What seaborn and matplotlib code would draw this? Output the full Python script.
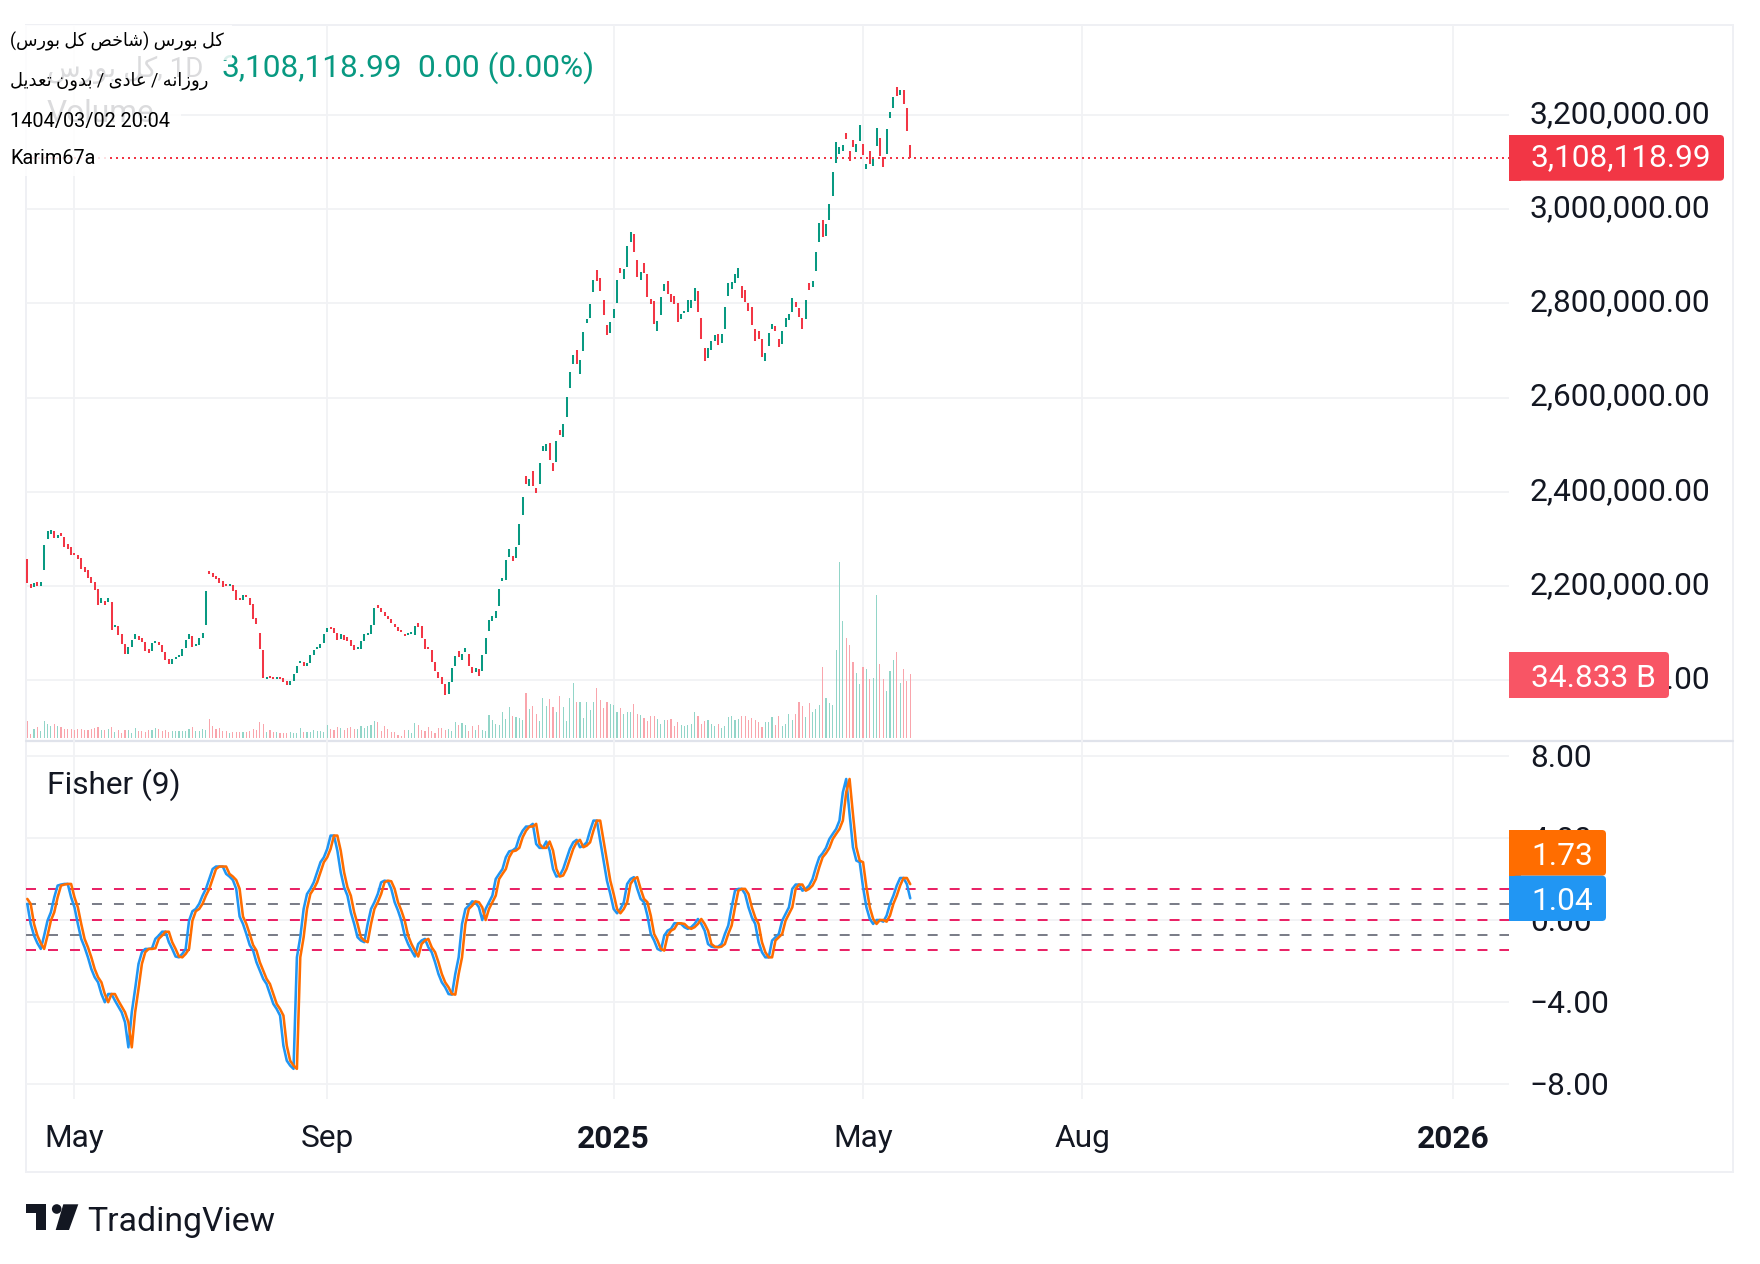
#!/usr/bin/env python3

import numpy as np
import pandas as pd
import matplotlib
matplotlib.use("Agg")
import matplotlib.pyplot as plt
from matplotlib.patches import Rectangle, FancyBboxPatch, Polygon, Circle
from matplotlib.transforms import ScaledTranslation
import seaborn as sns

# daily candles, thousands of points
open_k = [
    2257, 2204, 2198, 2208, 2200, 2234, 2299, 2310, 2316, 2302, 2312, 2304, 2289, 2283, 2270, 2266, 2259, 2240, 2234, 2219,
    2208, 2193, 2164, 2168, 2166, 2166, 2113, 2115, 2098, 2077, 2055, 2070, 2087, 2094, 2089, 2081, 2066, 2062, 2079, 2081,
    2074, 2060, 2045, 2034, 2045, 2049, 2051, 2068, 2087, 2094, 2072, 2074, 2089, 2117, 2232, 2227, 2221, 2217, 2210, 2204,
    2200, 2202, 2191, 2174, 2170, 2181, 2174, 2161, 2132, 2100, 2064, 2002, 2009, 2006, 2002, 2006, 2004, 1998, 1989, 1998,
    2015, 2036, 2038, 2030, 2036, 2053, 2066, 2068, 2079, 2102, 2113, 2111, 2100, 2087, 2096, 2091, 2085, 2074, 2066, 2066,
    2083, 2096, 2098, 2117, 2159, 2153, 2144, 2136, 2130, 2119, 2113, 2106, 2098, 2096, 2098, 2096, 2121, 2115, 2087, 2070,
    2064, 2038, 2017, 2006, 1992, 1970, 1996, 2030, 2062, 2043, 2060, 2055, 2028, 2017, 2023, 2019, 2055, 2104, 2125, 2132,
    2157, 2211, 2213, 2262, 2263, 2260, 2287, 2350, 2434, 2412, 2444, 2408, 2416, 2486, 2486, 2503, 2461, 2463, 2531, 2516,
    2559, 2620, 2671, 2701, 2650, 2699, 2758, 2769, 2824, 2871, 2854, 2807, 2754, 2737, 2769, 2801, 2875, 2852, 2878, 2930,
    2947, 2892, 2850, 2886, 2862, 2810, 2805, 2742, 2775, 2826, 2848, 2820, 2815, 2801, 2767, 2780, 2782, 2790, 2805, 2826,
    2769, 2705, 2684, 2701, 2720, 2735, 2716, 2745, 2815, 2831, 2843, 2854, 2837, 2829, 2801, 2792, 2745, 2742, 2724, 2678,
    2709, 2745, 2752, 2724, 2714, 2750, 2765, 2782, 2803, 2790, 2769, 2767, 2843, 2834, 2869, 2930, 2977, 2943, 2977, 3028,
    3098, 3117, 3124, 3162, 3124, 3147, 3122, 3145, 3138, 3085, 3124, 3092, 3134, 3151, 3111, 3117, 3194, 3215, 3260, 3243,
    3253, 3215, 3136,
]
close_k = [
    2206, 2195, 2206, 2200, 2208, 2287, 2316, 2319, 2302, 2308, 2306, 2283, 2278, 2266, 2266, 2257, 2236, 2229, 2217, 2206,
    2191, 2159, 2174, 2159, 2174, 2106, 2117, 2096, 2077, 2055, 2070, 2085, 2098, 2085, 2081, 2062, 2057, 2079, 2083, 2074,
    2060, 2043, 2034, 2045, 2049, 2053, 2066, 2085, 2098, 2070, 2077, 2089, 2100, 2189, 2225, 2219, 2215, 2206, 2198, 2200,
    2204, 2189, 2170, 2170, 2181, 2176, 2159, 2130, 2119, 2066, 2004, 2006, 2004, 2002, 2006, 2002, 1996, 1989, 1998, 2013,
    2030, 2040, 2030, 2036, 2053, 2064, 2070, 2077, 2098, 2111, 2108, 2100, 2085, 2098, 2085, 2083, 2072, 2064, 2070, 2083,
    2098, 2100, 2117, 2153, 2153, 2144, 2136, 2130, 2121, 2113, 2104, 2102, 2094, 2100, 2102, 2115, 2113, 2089, 2066, 2066,
    2038, 2019, 2004, 1992, 1968, 1996, 2026, 2051, 2049, 2055, 2068, 2030, 2015, 2026, 2009, 2053, 2089, 2128, 2136, 2147,
    2193, 2216, 2255, 2279, 2253, 2282, 2331, 2389, 2416, 2427, 2412, 2397, 2461, 2497, 2502, 2467, 2444, 2507, 2521, 2544,
    2601, 2655, 2690, 2671, 2679, 2739, 2767, 2799, 2850, 2848, 2826, 2775, 2733, 2761, 2788, 2850, 2864, 2873, 2922, 2951,
    2909, 2856, 2867, 2864, 2813, 2799, 2756, 2763, 2813, 2841, 2820, 2803, 2799, 2761, 2777, 2784, 2807, 2807, 2833, 2782,
    2724, 2678, 2705, 2720, 2733, 2712, 2735, 2792, 2843, 2845, 2862, 2875, 2812, 2803, 2784, 2754, 2720, 2724, 2686, 2695,
    2737, 2756, 2742, 2707, 2742, 2769, 2777, 2812, 2792, 2771, 2745, 2807, 2829, 2848, 2909, 2970, 2941, 2968, 3012, 3079,
    3143, 3132, 3136, 3149, 3102, 3132, 3138, 3179, 3115, 3096, 3096, 3107, 3172, 3113, 3090, 3170, 3206, 3238, 3240, 3253,
    3223, 3166, 3108.119,
]
# volume, billions
volume_b = [
    9.3, 2.2, 4.9, 6.0, 3.8, 9.3, 7.7, 6.6, 7.7, 6.6, 6.0, 4.9, 4.9, 4.9, 4.4, 4.9, 4.9, 4.4, 4.4, 4.9,
    5.5, 6.0, 4.4, 4.4, 4.9, 6.0, 3.3, 4.4, 2.7, 4.4, 4.4, 2.7, 5.5, 3.8, 3.8, 3.3, 4.4, 4.4, 5.5, 4.9,
    3.8, 4.4, 3.3, 3.8, 3.8, 3.8, 3.8, 3.8, 4.9, 6.0, 3.8, 3.8, 4.9, 4.4, 10.4, 6.6, 4.9, 5.5, 3.8, 3.8,
    2.7, 3.3, 3.3, 3.3, 3.3, 3.3, 3.8, 4.9, 4.4, 8.8, 7.7, 3.3, 4.4, 3.3, 3.3, 2.7, 2.7, 2.7, 3.3, 2.7,
    2.7, 5.5, 3.3, 3.3, 3.3, 4.4, 3.8, 3.8, 3.3, 7.1, 4.9, 4.4, 6.0, 5.5, 4.4, 5.5, 6.0, 4.9, 4.9, 6.6,
    5.5, 6.6, 7.1, 9.3, 8.8, 3.8, 6.6, 4.9, 3.3, 3.3, 1.6, 1.1, 4.4, 4.4, 2.7, 8.2, 7.1, 4.4, 3.8, 6.0,
    3.8, 2.7, 5.5, 5.5, 4.4, 4.9, 3.8, 8.8, 7.1, 8.2, 7.1, 3.8, 6.6, 4.4, 7.1, 4.4, 3.8, 12.6, 9.9, 7.7,
    7.1, 14.2, 10.4, 16.8, 11.9, 11.3, 10.8, 9.6, 24.6, 15.7, 17.4, 13.4, 9.1, 21.7, 17.4, 21.2, 16.8, 14.0, 22.9, 16.8,
    9.1, 21.7, 30.0, 19.5, 20.0, 10.8, 20.0, 15.1, 19.5, 27.2, 20.6, 16.2, 20.0, 18.5, 17.9, 14.0, 16.2, 13.4, 14.0, 14.0,
    18.5, 13.4, 12.5, 10.8, 9.1, 11.9, 11.9, 10.2, 7.9, 9.6, 9.6, 10.2, 6.4, 8.5, 7.0, 6.4, 7.0, 7.9, 14.0, 11.9,
    7.6, 9.1, 9.6, 7.6, 6.4, 7.6, 5.3, 6.4, 11.3, 11.9, 9.6, 10.2, 11.9, 11.9, 9.6, 10.8, 9.6, 8.5, 5.9, 8.5,
    8.5, 11.3, 7.0, 11.9, 6.4, 7.6, 13.0, 9.6, 13.4, 20.0, 17.4, 11.3, 19.1, 14.5, 15.7, 17.9, 38.7, 21.7, 19.1, 17.9,
    48.0, 96.3, 64.0, 54.6, 51.2, 41.6, 35.5, 29.5, 38.7, 37.6, 32.1, 32.7, 78.2, 40.4, 32.1, 25.5, 37.0, 42.5, 47.0, 30.0,
    37.6, 31.5, 34.833,
]
fisher = [
    0.77, -0.21, -0.78, -1.15, -1.43, -0.78, -0.05, 0.36, 1.09, 1.66, 1.71, 1.74, 1.74, 1.09, 0.60, -0.21, -0.94, -1.35, -1.84, -2.41,
    -2.81, -3.06, -3.63, -4.03, -3.63, -3.63, -3.95, -4.24, -4.52, -5.01, -6.23, -4.52, -3.38, -2.16, -1.59, -1.43, -1.43, -1.40, -0.94, -0.78,
    -0.59, -0.59, -1.10, -1.43, -1.80, -1.84, -1.67, -1.43, -0.05, 0.41, 0.52, 0.77, 1.17, 1.50, 1.98, 2.47, 2.59, 2.59, 2.59, 2.23,
    2.10, 1.93, 1.50, 0.15, -0.21, -0.70, -1.24, -1.51, -2.08, -2.49, -2.89, -3.14, -3.63, -4.11, -4.36, -4.68, -6.15, -6.88, -7.12, -7.28,
    -1.84, -0.86, 0.52, 1.25, 1.50, 1.82, 2.31, 2.80, 3.04, 3.45, 4.10, 4.10, 3.37, 2.31, 1.58, 1.17, 0.36, -0.21, -0.86, -1.02,
    -1.10, -0.21, 0.52, 0.85, 1.25, 1.82, 1.90, 1.87, 1.50, 0.85, 0.44, -0.05, -0.78, -1.19, -1.51, -1.80, -1.19, -1.02, -0.94, -1.35,
    -1.59, -2.08, -2.65, -3.06, -3.30, -3.63, -3.66, -2.65, -1.84, -0.21, 0.52, 0.68, 0.89, 0.85, 0.60, -0.02, 0.52, 0.85, 1.17, 1.98,
    2.23, 2.47, 3.04, 3.33, 3.37, 3.50, 4.02, 4.34, 4.54, 4.54, 4.67, 3.69, 3.50, 3.50, 3.81, 3.37, 2.47, 2.10, 2.15, 2.47,
    2.96, 3.45, 3.77, 3.89, 3.53, 3.61, 3.77, 4.34, 4.83, 4.83, 3.85, 2.88, 1.90, 1.25, 0.52, 0.31, 0.52, 0.85, 1.74, 1.98,
    2.07, 1.50, 1.01, 0.85, 0.20, -0.70, -1.02, -1.43, -1.51, -0.78, -0.54, -0.45, -0.18, -0.18, -0.21, -0.37, -0.45, -0.37, -0.21, 0.03,
    -0.21, -0.54, -1.19, -1.32, -1.35, -1.32, -1.19, -0.70, -0.29, 0.60, 1.41, 1.50, 1.50, 1.25, 0.60, 0.11, -0.21, -1.10, -1.59, -1.84,
    -1.84, -1.02, -0.86, -0.70, -0.05, 0.28, 0.60, 1.50, 1.71, 1.71, 1.41, 1.50, 1.66, 1.98, 2.55, 3.04, 3.24, 3.50, 3.93, 4.18,
    4.42, 4.83, 6.21, 6.86, 5.15, 3.53, 2.88, 2.80, 1.58, 0.60, 0.03, -0.21, -0.02, -0.02, -0.10, 0.20, 0.77, 1.17, 1.66, 2.03,
    2.03, 1.73, 1.04,
]
trigger = [
    1.01, 0.77, -0.21, -0.78, -1.15, -1.43, -0.78, -0.05, 0.36, 1.09, 1.66, 1.71, 1.74, 1.74, 1.09, 0.60, -0.21, -0.94, -1.35, -1.84,
    -2.41, -2.81, -3.06, -3.63, -4.03, -3.63, -3.63, -3.95, -4.24, -4.52, -5.01, -6.23, -4.52, -3.38, -2.16, -1.59, -1.43, -1.43, -1.40, -0.94,
    -0.78, -0.59, -0.59, -1.10, -1.43, -1.80, -1.84, -1.67, -1.43, -0.05, 0.41, 0.52, 0.77, 1.17, 1.50, 1.98, 2.47, 2.59, 2.59, 2.59,
    2.23, 2.10, 1.93, 1.50, 0.15, -0.21, -0.70, -1.24, -1.51, -2.08, -2.49, -2.89, -3.14, -3.63, -4.11, -4.36, -4.68, -6.15, -6.88, -7.12,
    -7.28, -1.84, -0.86, 0.52, 1.25, 1.50, 1.82, 2.31, 2.80, 3.04, 3.45, 4.10, 4.10, 3.37, 2.31, 1.58, 1.17, 0.36, -0.21, -0.86,
    -1.02, -1.10, -0.21, 0.52, 0.85, 1.25, 1.82, 1.90, 1.87, 1.50, 0.85, 0.44, -0.05, -0.78, -1.19, -1.51, -1.80, -1.19, -1.02, -0.94,
    -1.35, -1.59, -2.08, -2.65, -3.06, -3.30, -3.63, -3.66, -2.65, -1.84, -0.21, 0.52, 0.68, 0.89, 0.85, 0.60, -0.02, 0.52, 0.85, 1.17,
    1.98, 2.23, 2.47, 3.04, 3.33, 3.37, 3.50, 4.02, 4.34, 4.54, 4.54, 4.67, 3.69, 3.50, 3.50, 3.81, 3.37, 2.47, 2.10, 2.15,
    2.47, 2.96, 3.45, 3.77, 3.89, 3.53, 3.61, 3.77, 4.34, 4.83, 4.83, 3.85, 2.88, 1.90, 1.25, 0.52, 0.31, 0.52, 0.85, 1.74,
    1.98, 2.07, 1.50, 1.01, 0.85, 0.20, -0.70, -1.02, -1.43, -1.51, -0.78, -0.54, -0.45, -0.18, -0.18, -0.21, -0.37, -0.45, -0.37, -0.21,
    0.03, -0.21, -0.54, -1.19, -1.32, -1.35, -1.32, -1.19, -0.70, -0.29, 0.60, 1.41, 1.50, 1.50, 1.25, 0.60, 0.11, -0.21, -1.10, -1.59,
    -1.84, -1.84, -1.02, -0.86, -0.70, -0.05, 0.28, 0.60, 1.50, 1.71, 1.71, 1.41, 1.50, 1.66, 1.98, 2.55, 3.04, 3.24, 3.50, 3.93,
    4.18, 4.42, 4.83, 6.21, 6.86, 5.15, 3.53, 2.88, 2.80, 1.58, 0.60, 0.03, -0.21, -0.02, -0.02, -0.10, 0.20, 0.77, 1.17, 1.66,
    2.03, 2.03, 1.73,
]

price_ticks = [2000000, 2200000, 2400000, 2600000, 2800000, 3000000, 3200000]
fisher_ticks = [8, 4, 0, -4, -8]
pink_levels = [1.5, 0, -1.5]
gray_levels = [0.75, -0.75]
time_ticks = [14, 89, 174, 248, 313, 423]
time_labels = ["May", "Sep", "2025", "May", "Aug", "2026"]
last_price = 3108118.99

UP = "#089981"
DOWN = "#f23645"
VOL_UP = "#92d5c8"
VOL_DOWN = "#f9a5ac"
GRID = "#f1f2f5"
INK = "#131722"
LABEL_SIZE = 22.8

# Persian glyph forms: isolated, final, initial, medial
FORMS = {
    "ا": (0xFE8D, 0xFE8E), "د": (0xFEA9, 0xFEAA), "ر": (0xFEAD, 0xFEAE), "ز": (0xFEAF, 0xFEB0), "و": (0xFEED, 0xFEEE),
    "ب": (0xFE8F, 0xFE90, 0xFE91, 0xFE92), "ت": (0xFE95, 0xFE96, 0xFE97, 0xFE98), "خ": (0xFEA5, 0xFEA6, 0xFEA7, 0xFEA8),
    "س": (0xFEB1, 0xFEB2, 0xFEB3, 0xFEB4), "ش": (0xFEB5, 0xFEB6, 0xFEB7, 0xFEB8), "ص": (0xFEB9, 0xFEBA, 0xFEBB, 0xFEBC),
    "ع": (0xFEC9, 0xFECA, 0xFECB, 0xFECC), "ک": (0xFB8E, 0xFB8F, 0xFB90, 0xFB91), "ل": (0xFEDD, 0xFEDE, 0xFEDF, 0xFEE0),
    "ن": (0xFEE5, 0xFEE6, 0xFEE7, 0xFEE8), "ه": (0xFEE9, 0xFEEA, 0xFEEB, 0xFEEC), "ی": (0xFBFC, 0xFBFD, 0xFBFE, 0xFBFF),
}


def shape_rtl(text):
    # matplotlib has no bidi or joining, so lay the line out in visual order
    out = []
    for i, ch in enumerate(text):
        if ch not in FORMS:
            out.append({"(": ")", ")": "("}.get(ch, ch))
            continue
        prev = text[i - 1] if i > 0 else " "
        nxt = text[i + 1] if i + 1 < len(text) else " "
        joins_prev = prev in FORMS and len(FORMS[prev]) == 4
        joins_next = nxt in FORMS and len(FORMS[ch]) == 4
        forms = FORMS[ch]
        if joins_prev and joins_next:
            out.append(chr(forms[3]))
        elif joins_prev:
            out.append(chr(forms[1]))
        elif joins_next:
            out.append(chr(forms[2]))
        else:
            out.append(chr(forms[0]))
    return "".join(reversed(out))


def pixel_axes(fig, zorder):
    over = fig.add_axes([0, 0, 1, 1], zorder=zorder)
    over.patch.set_alpha(0)
    over.axis("off")
    return over


def value_tag(over, x0, x1, y0, y1, color, label, dy=12):
    over.add_patch(FancyBboxPatch((x0 + 6, y0 + 3), x1 - x0 - 9, y1 - y0 - 6, boxstyle="round,pad=3,rounding_size=4",
                                  fc=color, ec="none", zorder=5))
    over.add_patch(Rectangle((x0, y0), 12, y1 - y0, fc=color, ec="none", zorder=5))
    over.text(1531, (y0 + y1) / 2 + dy, label, color="white", fontsize=LABEL_SIZE, ha="left", va="baseline", zorder=6)


def main():
    sns.set_theme(style="white")
    plt.rcParams["font.family"] = ["Roboto", "DejaVu Sans"]

    bars = np.arange(len(open_k))
    candles = pd.DataFrame({
        "bar": bars,
        "open": np.array(open_k) * 1000.0,
        "close": np.array(close_k) * 1000.0,
        "volume": np.array(volume_b) * 1e9,
        "fisher": fisher,
        "trigger": trigger,
    })
    candles["side"] = np.where(candles["close"] < candles["open"], "down", "up")

    fig = plt.figure(figsize=(17.6, 12.64), dpi=100)
    w, h = 1760.0, 1264.0
    left, right = 26.0, 1509.0
    ax = fig.add_axes([left / w, 1 - 741 / h, (right - left) / w, (741 - 25) / h])
    ax_low = fig.add_axes([left / w, 1 - 1098.7 / h, (right - left) / w, (1098.7 - 741) / h])
    ax_vol = ax.twinx()
    for a in (ax, ax_low, ax_vol):
        a.patch.set_alpha(0)
        sns.despine(ax=a, left=True, bottom=True, right=True, top=True)

    # volume underlay
    sns.barplot(data=candles, x="bar", y="volume", hue="side", palette={"up": VOL_UP, "down": VOL_DOWN},
                native_scale=True, dodge=False, width=0.34, saturation=1, legend=False, linewidth=0,
                edgecolor="none", ax=ax_vol)
    ax_vol.set_ylim(-1.65e9, 391e9)
    ax_vol.set_yticks([])
    ax_vol.set_ylabel("")
    ax_vol.set_xlabel("")

    # candle bodies
    for side, color in (("up", UP), ("down", DOWN)):
        part = candles[candles["side"] == side]
        ax.vlines(part["bar"], part["open"], part["close"], color=color, lw=1.45, zorder=3)
    ax.axhline(last_price, color=DOWN, lw=1.44, ls=(0, (1, 2)), zorder=2)

    ax.set_ylim(1870500, 3391100)
    ax.set_yticks(price_ticks)
    ax.set_yticklabels([f"{p:,.2f}" for p in price_ticks], color=INK, fontsize=LABEL_SIZE)
    ax.yaxis.tick_right()
    ax.tick_params(axis="y", length=0, pad=15)
    # commas pull the bbox centre up, nudge these to sit like the reference
    lift = ScaledTranslation(0, 3.4 / 100, fig.dpi_scale_trans)
    for lab in ax.yaxis.get_ticklabels():
        lab.set_transform(lab.get_transform() + lift)
    ax.set_xticks(time_ticks)
    ax.tick_params(axis="x", length=0, labelbottom=False)
    ax.grid(True, color=GRID, lw=1.3, zorder=0)
    ax.set_axisbelow(True)

    # fisher pane
    for lvl in pink_levels:
        ax_low.axhline(lvl, color="#e91e63", lw=1.4, ls=(0, (5.14, 6.17)), zorder=2)
    for lvl in gray_levels:
        ax_low.axhline(lvl, color="#787b86", lw=1.4, ls=(0, (5.14, 6.17)), zorder=2)
    sns.lineplot(data=candles, x="bar", y="fisher", color="#2196f3", lw=1.85, estimator=None, ax=ax_low, zorder=3)
    sns.lineplot(data=candles, x="bar", y="trigger", color="#ff6d00", lw=1.85, estimator=None, ax=ax_low, zorder=4)
    ax_low.set_ylim(-8.736, 8.713)
    ax_low.set_yticks(fisher_ticks)
    ax_low.set_yticklabels([f"{v:.2f}".replace("-", "\u2212") for v in fisher_ticks], color=INK, fontsize=LABEL_SIZE)
    ax_low.yaxis.tick_right()
    ax_low.tick_params(axis="y", length=0, pad=15)
    ax_low.set_xticks(time_ticks)
    ax_low.set_xticklabels(time_labels, color=INK, fontsize=LABEL_SIZE)
    ax_low.tick_params(axis="x", length=0, pad=18.5)
    for lab in ax_low.get_xticklabels():
        if lab.get_text().isdigit():
            lab.set_fontweight("bold")
    ax_low.grid(True, color=GRID, lw=1.3, zorder=0)
    ax_low.set_axisbelow(True)
    ax_low.set_xlabel("")
    ax_low.set_ylabel("")

    xlim = ((left - 27.3) / 3.37, (right - 27.3) / 3.37)
    for a in (ax, ax_low, ax_vol):
        a.set_xlim(*xlim)

    # frame behind everything
    back = pixel_axes(fig, -1)
    back.add_patch(Rectangle((26, 25), 1707, 1147, fc="white", ec="#eff0f4", lw=1.4))
    back.plot([26, 1733], [741, 741], color="#e0e3eb", lw=1.6)
    back.set_xlim(0, w)
    back.set_ylim(h, 0)

    over = pixel_axes(fig, 10)
    # faded series title under the white label boxes
    over.text(47, 77, shape_rtl("کل بورس") + ", 1D", color=INK, fontsize=20, ha="left", va="baseline")
    over.text(47, 122, "Volume", color=INK, fontsize=LABEL_SIZE, ha="left", va="baseline")
    over.text(221.5, 76.5, "3,108,118.99", color=UP, fontsize=LABEL_SIZE, ha="left", va="baseline")
    over.text(417.5, 76.5, "0.00 (0.00%)", color=UP, fontsize=LABEL_SIZE, ha="left", va="baseline")
    fade = np.ones((1, 40, 4))
    fade[0, :, 3] = np.linspace(0.85, 0, 40)
    over.imshow(fade, extent=(222, 262, 90, 48), aspect="auto", interpolation="bilinear", zorder=2)
    for x1, y0, y1 in ((232, 25, 60), (218, 60, 100), (181, 100, 140), (108, 140, 176)):
        over.add_patch(Rectangle((0, y0), x1, y1 - y0, fc="white", ec="none", alpha=0.85, zorder=3))
    rows = [(41, shape_rtl("کل بورس (شاخص کل بورس)"), 12.7), (81, shape_rtl("روزانه / عادی / بدون تعدیل"), 12.9),
            (122, "1404/03/02 20:04", 14.3), (159, "Karim67a", 14.3)]
    for y, label, size in rows:
        over.text(10.5, y, label, color="black", fontsize=size, ha="left", va="center", zorder=4)

    value_tag(over, 1509, 1724, 135, 180.7, DOWN, "3,108,118.99", dy=8)
    value_tag(over, 1509, 1669, 652, 698, "#f85565", "34.833 B")
    value_tag(over, 1509, 1606, 830, 875.7, "#ff6d00", "1.73")
    value_tag(over, 1509, 1606, 875.7, 921, "#2196f3", "1.04")

    over.text(47, 784.5, "Fisher (9)", color=INK, fontsize=LABEL_SIZE, ha="left", va="center")

    # footer logo and name
    over.add_patch(Polygon([(26, 1204.3), (46, 1204.3), (46, 1230), (36, 1230), (36, 1213), (26, 1213)], fc=INK, ec="none"))
    over.add_patch(Circle((56.7, 1209), 4.8, fc=INK, ec="none"))
    over.add_patch(Polygon([(63.3, 1204.3), (78.3, 1204.3), (69, 1230), (55.7, 1230)], fc=INK, ec="none"))
    over.text(87.5, 1222.5, "TradingView", color=INK, fontsize=24.3, ha="left", va="center")
    over.set_xlim(0, w)
    over.set_ylim(h, 0)

    fig.savefig("out.png", dpi=100, facecolor="white")
    plt.close(fig)


if __name__ == "__main__":
    main()
